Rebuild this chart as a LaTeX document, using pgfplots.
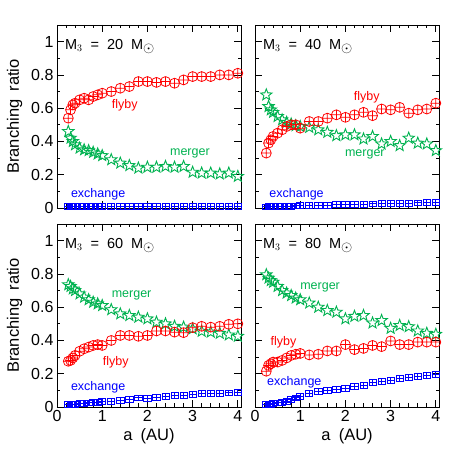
\documentclass[border=0pt]{standalone}
\usepackage{pgfplots}
\pgfplotsset{compat=1.18}
\usepackage{pgfplotstable}
\usepackage{fontspec}
\setmainfont{Liberation Sans}
\usetikzlibrary{plotmarks}
\definecolor{cfly}{RGB}{255,0,0}
\definecolor{cmer}{RGB}{0,178,80}
\definecolor{cexc}{RGB}{0,0,255}

\pgfdeclareplotmark{star5}{%
\pgfpathmoveto{\pgfpointpolar{90}{\pgfplotmarksize}}%
\pgfpathlineto{\pgfpointpolar{126}{0.42\pgfplotmarksize}}%
\pgfpathlineto{\pgfpointpolar{162}{\pgfplotmarksize}}%
\pgfpathlineto{\pgfpointpolar{198}{0.42\pgfplotmarksize}}%
\pgfpathlineto{\pgfpointpolar{234}{\pgfplotmarksize}}%
\pgfpathlineto{\pgfpointpolar{270}{0.42\pgfplotmarksize}}%
\pgfpathlineto{\pgfpointpolar{306}{\pgfplotmarksize}}%
\pgfpathlineto{\pgfpointpolar{342}{0.42\pgfplotmarksize}}%
\pgfpathlineto{\pgfpointpolar{18}{\pgfplotmarksize}}%
\pgfpathlineto{\pgfpointpolar{54}{0.42\pgfplotmarksize}}%
\pgfpathclose\pgfusepathqstroke}
\pgfdeclareplotmark{sqplus}{%
\pgfpathrectangle{\pgfpoint{-\pgfplotmarksize}{-0.8\pgfplotmarksize}}{\pgfpoint{2\pgfplotmarksize}{1.6\pgfplotmarksize}}%
\pgfpathmoveto{\pgfpoint{-\pgfplotmarksize}{0pt}}\pgfpathlineto{\pgfpoint{\pgfplotmarksize}{0pt}}%
\pgfpathmoveto{\pgfpoint{0pt}{-0.8\pgfplotmarksize}}\pgfpathlineto{\pgfpoint{0pt}{0.8\pgfplotmarksize}}%
\pgfusepathqstroke}

\pgfplotstableread{
x fly mer exc
0.25 0.54 0.46 0.010
0.30 0.59 0.42 0.010
0.35 0.62 0.40 0.010
0.40 0.63 0.38 0.010
0.50 0.65 0.36 0.010
0.60 0.66 0.35 0.010
0.70 0.65 0.345 0.010
0.80 0.67 0.335 0.010
0.90 0.68 0.325 0.010
1.00 0.69 0.315 0.010
1.20 0.70 0.29 0.010
1.40 0.72 0.27 0.010
1.60 0.73 0.255 0.010
1.80 0.76 0.24 0.010
2.00 0.76 0.245 0.010
2.20 0.755 0.245 0.010
2.40 0.76 0.25 0.010
2.60 0.75 0.245 0.010
2.80 0.77 0.25 0.010
3.00 0.79 0.215 0.010
3.20 0.79 0.21 0.010
3.40 0.79 0.21 0.010
3.60 0.80 0.205 0.010
3.80 0.80 0.21 0.010
4.00 0.81 0.19 0.010
}\tabA
\pgfplotstableread{
x fly mer exc
0.25 0.33 0.68 0.007
0.30 0.39 0.61 0.008
0.35 0.41 0.59 0.008
0.40 0.43 0.575 0.009
0.50 0.45 0.55 0.010
0.60 0.47 0.53 0.010
0.70 0.49 0.515 0.011
0.80 0.50 0.505 0.012
0.90 0.50 0.495 0.013
1.00 0.48 0.49 0.014
1.20 0.52 0.485 0.015
1.40 0.52 0.47 0.017
1.60 0.54 0.455 0.018
1.80 0.56 0.435 0.020
2.00 0.545 0.44 0.021
2.20 0.56 0.44 0.022
2.40 0.575 0.415 0.024
2.60 0.555 0.43 0.025
2.80 0.595 0.385 0.026
3.00 0.59 0.40 0.027
3.20 0.605 0.375 0.028
3.40 0.57 0.42 0.029
3.60 0.59 0.39 0.031
3.80 0.595 0.385 0.032
4.00 0.63 0.345 0.034
}\tabB
\pgfplotstableread{
x fly mer exc
0.25 0.275 0.735 0.015
0.30 0.28 0.725 0.015
0.35 0.295 0.71 0.017
0.40 0.31 0.70 0.018
0.50 0.335 0.68 0.020
0.60 0.35 0.66 0.022
0.70 0.36 0.645 0.025
0.80 0.37 0.63 0.027
0.90 0.375 0.62 0.030
1.00 0.37 0.61 0.032
1.20 0.40 0.585 0.035
1.40 0.43 0.56 0.040
1.60 0.43 0.55 0.045
1.80 0.425 0.54 0.055
2.00 0.43 0.53 0.050
2.20 0.457 0.51 0.060
2.40 0.457 0.50 0.065
2.60 0.45 0.485 0.070
2.80 0.447 0.48 0.072
3.00 0.477 0.47 0.075
3.20 0.485 0.455 0.080
3.40 0.48 0.45 0.080
3.60 0.485 0.443 0.083
3.80 0.497 0.433 0.085
4.00 0.50 0.425 0.088
}\tabC
\pgfplotstableread{
x fly mer exc
0.25 0.215 0.795 0.015
0.30 0.25 0.775 0.015
0.35 0.26 0.76 0.018
0.40 0.27 0.75 0.020
0.50 0.27 0.725 0.025
0.60 0.28 0.70 0.030
0.70 0.295 0.685 0.035
0.80 0.31 0.67 0.045
0.90 0.317 0.655 0.055
1.00 0.322 0.645 0.065
1.20 0.313 0.625 0.080
1.40 0.317 0.60 0.092
1.60 0.337 0.58 0.100
1.80 0.337 0.57 0.107
2.00 0.375 0.53 0.112
2.20 0.345 0.545 0.124
2.40 0.352 0.55 0.132
2.60 0.37 0.505 0.148
2.80 0.363 0.52 0.153
3.00 0.397 0.473 0.162
3.20 0.375 0.49 0.170
3.40 0.375 0.483 0.180
3.60 0.39 0.457 0.186
3.80 0.39 0.443 0.190
4.00 0.39 0.437 0.195
}\tabD

\tikzset{
  lab/.style={font=\fontsize{12.5}{14}\selectfont},
  ptitle/.style={font=\fontsize{14.5}{16}\selectfont, anchor=west},
}
\newcommand{\ttl}[1]{M$_{3}$\hspace{0.55em}=\hspace{0.55em}#1\hspace{0.55em}M$_{\textstyle\odot}$}
\pgfplotsset{
  panel/.style={
    scale only axis, width=184pt, height=183pt,
    xmin=0, xmax=4.07, ymin=0, ymax=1.1,
    xtick={0,1,2,3,4}, minor x tick num=4,
    ytick={0,0.2,0.4,0.6,0.8,1}, minor y tick num=1,
    yticklabels={0,0.2,0.4,0.6,0.8,1},
    xticklabels={0,1,2,3,4},
    tick align=inside, xtick pos=both, ytick pos=both,
    xticklabel pos=lower, yticklabel pos=left,
    major tick length=7pt, minor tick length=3.5pt,
    every tick/.style={black, line width=0.7pt},
    axis line style={line width=0.8pt},
    tick label style={font=\fontsize{16}{18}\selectfont},
    label style={font=\fontsize{16.5}{18}\selectfont},
    ylabel style={yshift=2pt},
    /pgf/number format/assume math mode=true,
    clip=false,
  },
  pfly/.style={only marks, mark=oplus, mark size=5pt, color=cfly, line width=0.75pt},
  pmer/.style={only marks, mark=star5, mark size=6pt, color=cmer, line width=0.9pt},
  pexc/.style={only marks, mark=sqplus, mark size=3.6pt, color=cexc, line width=0.75pt},
}

\begin{document}
\begin{tikzpicture}
\useasboundingbox (0pt,0pt) rectangle (463pt,463pt);
% top-left
\begin{axis}[panel, at={(57pt,255pt)}, anchor=south west, xticklabels={},
  ylabel={Branching\hspace{0.5em}ratio}]
\addplot[pexc] table[x=x,y=exc] {\tabA};
\addplot[pmer] table[x=x,y=mer] {\tabA};
\addplot[pfly] table[x=x,y=fly] {\tabA};
\node[lab, cfly] at (axis cs:1.5,0.615) {flyby};
\node[lab, cmer] at (axis cs:2.94,0.325) {merger};
\node[lab, cexc] at (axis cs:0.91,0.084) {exchange};
\node[ptitle] at (axis cs:0.1,0.97) {\ttl{20}};
\end{axis}
% top-right
\begin{axis}[panel, at={(255pt,255pt)}, anchor=south west, xticklabels={}, yticklabels={}]
\addplot[pexc] table[x=x,y=exc] {\tabB};
\addplot[pmer] table[x=x,y=mer] {\tabB};
\addplot[pfly] table[x=x,y=fly] {\tabB};
\node[lab, cfly] at (axis cs:2.47,0.667) {flyby};
\node[lab, cmer] at (axis cs:2.43,0.32) {merger};
\node[lab, cexc] at (axis cs:0.92,0.084) {exchange};
\node[ptitle] at (axis cs:0.1,0.97) {\ttl{40}};
\end{axis}
% bottom-left
\begin{axis}[panel, at={(57pt,56pt)}, anchor=south west,
  ylabel={Branching\hspace{0.5em}ratio}, xlabel={a\hspace{0.5em}(AU)}]
\addplot[pexc] table[x=x,y=exc] {\tabC};
\addplot[pmer] table[x=x,y=mer] {\tabC};
\addplot[pfly] table[x=x,y=fly] {\tabC};
\node[lab, cmer] at (axis cs:1.65,0.67) {merger};
\node[lab, cfly] at (axis cs:1.30,0.27) {flyby};
\node[lab, cexc] at (axis cs:0.91,0.12) {exchange};
\node[ptitle] at (axis cs:0.1,0.97) {\ttl{60}};
\end{axis}
% bottom-right
\begin{axis}[panel, at={(255pt,56pt)}, anchor=south west, yticklabels={},
  xlabel={a\hspace{0.5em}(AU)}]
\addplot[pexc] table[x=x,y=exc] {\tabD};
\addplot[pmer] table[x=x,y=mer] {\tabD};
\addplot[pfly] table[x=x,y=fly] {\tabD};
\node[lab, cmer] at (axis cs:1.44,0.72) {merger};
\node[lab, cfly] at (axis cs:0.63,0.39) {flyby};
\node[lab, cexc] at (axis cs:0.87,0.15) {exchange};
\node[ptitle] at (axis cs:0.1,0.97) {\ttl{80}};
\end{axis}
\end{tikzpicture}
\end{document}
